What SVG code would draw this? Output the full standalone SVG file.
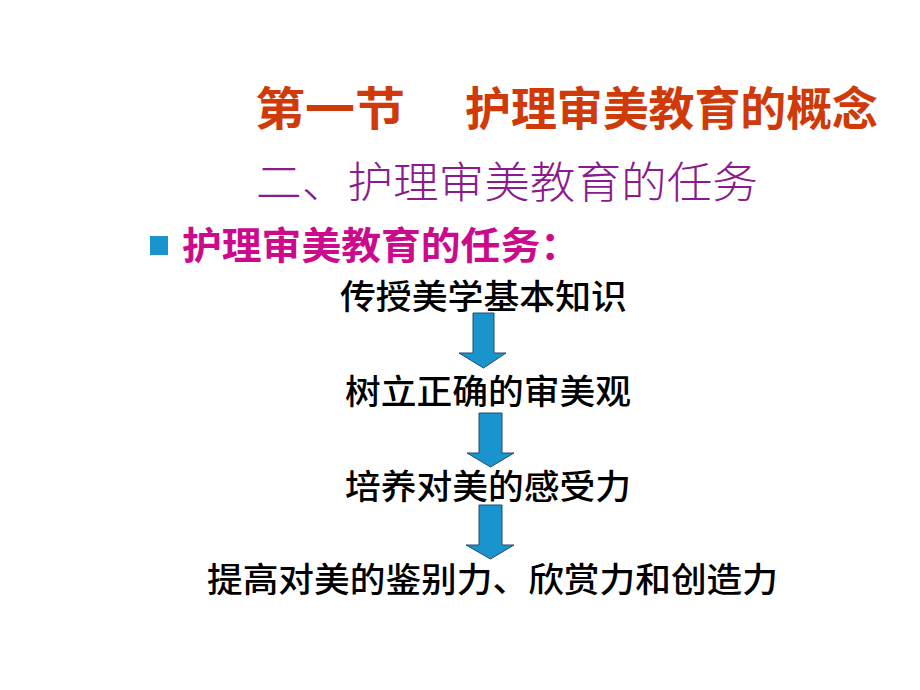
<svg xmlns="http://www.w3.org/2000/svg" width="920" height="690" viewBox="0 0 920 690">
<defs>
<style>
.t{font-family:"Noto Sans CJK SC","Noto Sans CJK TC",sans-serif;}
.h1{fill:#cf3a08;font-size:46px;font-weight:bold;}
.h2{fill:#8a1a8e;font-size:43px;font-weight:300;}
.h3{fill:#cc0a8c;font-size:38px;font-weight:bold;}
.n{fill:#000;font-size:34px;font-weight:500;}
.arr{fill:#1a94cc;stroke:#234a6a;stroke-width:1;}
</style>
</defs>
<rect width="920" height="690" fill="#fff"/>
<g id="title">
<text class="t h1" x="255" y="125" textLength="150" lengthAdjust="spacingAndGlyphs">第一节</text>
<text class="t h1" x="465" y="125" textLength="413" lengthAdjust="spacingAndGlyphs">护理审美教育的概念</text>
</g>
<g id="subtitle">
<text class="t h2" x="256" y="198" textLength="502" lengthAdjust="spacingAndGlyphs">二、护理审美教育的任务</text>
</g>
<g id="bullet">
<rect x="150" y="236" width="18" height="19" fill="#1a94cc"/>
<text class="t h3" x="182" y="259" textLength="398" lengthAdjust="spacingAndGlyphs">护理审美教育的任务：</text>
</g>
<g id="node1"><text class="t n" x="340" y="309" textLength="287" lengthAdjust="spacingAndGlyphs">传授美学基本知识</text></g>
<g id="node2"><text class="t n" x="345" y="404" textLength="286" lengthAdjust="spacingAndGlyphs">树立正确的审美观</text></g>
<g id="node3"><text class="t n" x="345" y="499" textLength="286" lengthAdjust="spacingAndGlyphs">培养对美的感受力</text></g>
<g id="node4"><text class="t n" x="207" y="592" textLength="571" lengthAdjust="spacingAndGlyphs">提高对美的鉴别力、欣赏力和创造力</text></g>
<g id="connectors">
<polygon class="arr" points="473,313 494,313 494,353 506,353 483.5,368 459,353 473,353"/>
<polygon class="arr" points="479,413 502,413 502,453 514,453 490.5,467 467,453 479,453"/>
<polygon class="arr" points="479,505 502,505 502,545 514,545 490.5,559 466,545 479,545"/>
</g>
</svg>
